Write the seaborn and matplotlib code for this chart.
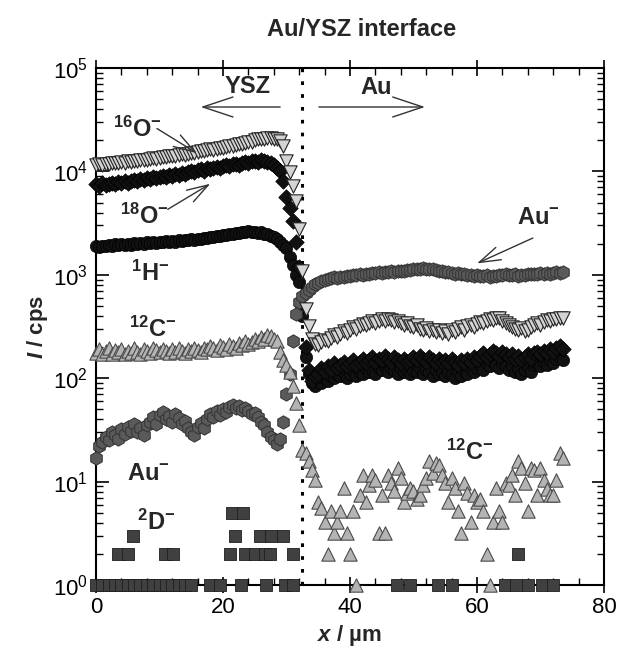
"""
Au/YSZ interface - SIMS line scan across the electrode/electrolyte boundary
--------------------------------------------------------------------------
Secondary ion intensities (log scale) versus lateral position x.
"""

import matplotlib

matplotlib.use("Agg")

import matplotlib.pyplot as plt
import numpy as np
import seaborn as sns
from matplotlib.ticker import MultipleLocator

# ==========================================================
# Data (counts per second, one value every 0.5 um)
# ==========================================================

STEP_UM = 0.5

O16 = [
    11500, 11700, 11600, 11900, 11800, 12000, 12100, 12000, 12300, 12200,
    12500, 12400, 12700, 12600, 12900, 13000, 12900, 13200, 13400, 13300,
    13600, 13800, 13700, 14000, 14200, 14100, 14400, 14600, 14500, 14900,
    15100, 15000, 15400, 15700, 15600, 16000, 16300, 16200, 16600, 16900,
    17000, 17400, 17700, 17600, 18100, 18400, 18300, 18800, 19200, 19100,
    20000, 20400, 20800, 20600, 21000, 20900, 20700, 20400, 19800, 17500,
    12500, 9800, 7300, 5200, 2800, 1100, 470, 320, 240, 215,
    210, 225, 235, 230, 245, 260, 250, 270, 285, 275,
    295, 310, 300, 320, 335, 325, 345, 355, 340, 360,
    370, 355, 375, 365, 350, 360, 345, 330, 340, 320,
    310, 325, 300, 290, 305, 285, 295, 280, 290, 275,
    285, 270, 290, 280, 300, 310, 295, 320, 330, 315,
    335, 350, 340, 360, 375, 365, 385, 380, 360, 345,
    330, 315, 300, 290, 305, 285, 295, 310, 325, 340,
    330, 350, 365, 355, 375, 370, 385, 380,
]

O18 = [
    7500, 7200, 7700, 7400, 7600, 7800, 7500, 7900, 7700, 8000,
    7800, 8100, 8300, 8000, 8400, 8200, 8600, 8400, 8800, 8600,
    8900, 9100, 8800, 9300, 9100, 9500, 9300, 9700, 9500, 9900,
    10100, 9800, 10300, 10500, 10200, 10700, 10500, 10900, 11100, 10800,
    11300, 11500, 11200, 11700, 11900, 11600, 12100, 12300, 12000, 12500,
    12700, 12400, 12900, 12600, 12300, 12000, 11500, 10800, 10000, 8000,
    5700, 4400, 3300, 2100, 1200, 500, 200, 120, 95, 105,
    110, 125, 115, 130, 120, 140, 125, 135, 145, 130,
    140, 150, 135, 145, 155, 140, 150, 160, 145, 155,
    150, 165, 155, 145, 160, 150, 140, 155, 145, 150,
    160, 150, 165, 155, 145, 160, 150, 140, 155, 145,
    150, 140, 155, 145, 135, 150, 140, 155, 145, 160,
    150, 165, 175, 160, 170, 185, 175, 165, 180, 170,
    160, 170, 155, 165, 150, 160, 170, 155, 175, 180,
    170, 185, 175, 190, 180, 195, 205, 190,
]

H1 = [
    1900, 1850, 1920, 1880, 1950, 1900, 1970, 1930, 1990, 1950,
    2000, 1960, 2020, 1980, 2040, 2000, 2060, 2020, 2080, 2040,
    2100, 2060, 2120, 2080, 2140, 2100, 2160, 2120, 2180, 2150,
    2200, 2170, 2240, 2200, 2280, 2250, 2330, 2300, 2380, 2350,
    2450, 2430, 2500, 2480, 2560, 2530, 2600, 2570, 2650, 2600,
    2620, 2560, 2580, 2500, 2480, 2400, 2330, 2220, 2100, 1950,
    1800, 1500, 1250, 1000, 850, 400, 160, 110, 90, 85,
    95, 90, 100, 95, 105, 100, 110, 105, 115, 100,
    110, 120, 105, 115, 110, 125, 115, 120, 110, 125,
    120, 130, 115, 125, 120, 110, 125, 115, 120, 110,
    120, 115, 125, 110, 120, 115, 105, 120, 110, 115,
    105, 115, 110, 100, 115, 105, 120, 110, 125, 115,
    125, 135, 120, 140, 130, 145, 135, 125, 140, 130,
    120, 130, 115, 125, 110, 120, 130, 115, 135, 140,
    130, 145, 135, 150, 140, 155, 160, 150,
]

AU = [
    17, 22, 24, 27, 25, 30, 28, 26, 32, 29,
    34, 31, 36, 30, 33, 28, 35, 38, 42, 36,
    44, 47, 40, 43, 38, 45, 41, 36, 39, 33,
    30, 28, 34, 37, 33, 40, 45, 42, 48, 44,
    50, 47, 53, 55, 51, 54, 49, 52, 48, 45,
    46, 42, 38, 35, 30, 27, 25, 23, 26, 38,
    70, 110, 230, 420, 540, 620, 670, 720, 770, 810,
    840, 870, 890, 910, 930, 950, 940, 960, 950, 980,
    970, 1000, 990, 1010, 1000, 1030, 1020, 1050, 1040, 1060,
    1050, 1070, 1060, 1080, 1070, 1090, 1080, 1100, 1110, 1120,
    1130, 1140, 1150, 1160, 1150, 1140, 1130, 1110, 1100, 1080,
    1070, 1060, 1050, 1030, 1040, 1020, 1010, 1000, 990, 980,
    1000, 980, 970, 990, 960, 980, 970, 1000, 990, 1010,
    1000, 990, 1010, 980, 1000, 990, 1020, 1010, 1030, 1020,
    1040, 1030, 1050, 1020, 1040, 1060, 1050, 1070,
]

C12 = [
    175, 190, 170, 185, 195, 172, 188, 178, 192, 170,
    185, 175, 195, 180, 170, 190, 182, 176, 195, 186,
    178, 192, 184, 174, 190, 180, 196, 185, 176, 192,
    184, 198, 188, 180, 196, 190, 205, 195, 188, 210,
    200, 192, 215, 205, 198, 220, 210, 230, 215, 225,
    240, 228, 250, 238, 262, 255, 240, 230, 180, 150,
    135, 115, 85, 58, 35, 20, 19, 16, 13, 10.4,
    6.4, 5.5, 4.1, 2.0, 5.2, 3.2, 4.1, 5.2, 8.6, 3.2,
    2.0, 5.2, 1.0, 7.4, 11.6, 6.4, 9.2, 11.6, 10.4, 3.2,
    7.4, 3.2, 11.6, 9.7, 8.1, 13.6, 10.9, 6.4, 7.7, 8.6,
    8.1, 6.8, 7.4, 9.2, 10.9, 16, 12.2, 15.3, 14.6, 11.6,
    9.7, 6.4, 10.9, 8.6, 5.2, 3.2, 9.7, 7.7, 4.1, 7.4,
    6.4, 6.8, 5.2, 2.0, 1.0, 4.1, 8.6, 5.2, 4.1, 9.7,
    9.2, 11.6, 7.4, 16, 13.6, 9.7, 5.2, 13.6, 13, 7.4,
    13.6, 10.4, 8.4, 7.4, 7.4, 10.4, 19, 17,
]

# 2D- is counted in single events: positions (um) for each count level
D2_ONE_X = [0, 1, 2, 3, 4, 5, 6, 7, 8, 9, 10, 11, 12, 13, 14, 15,
            17.9, 19.6, 22.8, 26.8, 29.8, 31.1, 47.4, 49.4, 53.9, 56.1,
            64.4, 66.1, 68.0, 70.2, 72.0]
D2_TWO_X = [3.5, 5.0, 10.9, 12.1, 21.1, 23.5, 25.0, 26.6, 27.4, 31.0, 66.5]
D2_THREE_X = [5.8, 21.9, 25.8, 27.6, 29.4]
D2_FIVE_X = [21.4, 23.1]

INTERFACE_X = 32.4

# ==========================================================
# Plot Style
# ==========================================================

sns.set_theme(style="ticks")

plt.rcParams.update({
    "font.family": ["Liberation Sans", "DejaVu Sans"],
    "mathtext.fontset": "custom",
    "mathtext.rm": "Liberation Sans",
    "mathtext.it": "Liberation Sans:italic",
    "mathtext.bf": "Liberation Sans:bold",
    "mathtext.bfit": "Liberation Sans:italic:bold",
    "mathtext.sf": "Liberation Sans",
    "axes.linewidth": 1.5,
    "axes.edgecolor": "black",
})


def draw(ax, x, y, marker, size, face, edge, lw, z):
    """One ion signal as a scatter."""

    sns.scatterplot(
        x=x,
        y=y,
        marker=marker,
        s=size,
        color=face,
        edgecolor=edge,
        linewidth=lw,
        zorder=z,
        clip_on=False,
        legend=False,
        ax=ax,
    )


def arrow(ax, tail, head, scale=22, style="->,head_length=0.7,head_width=0.22"):
    ax.annotate(
        "",
        xy=head,
        xytext=tail,
        arrowprops=dict(
            arrowstyle=style,
            color="#333333",
            lw=1.0,
            mutation_scale=scale,
            shrinkA=0,
            shrinkB=0,
        ),
        zorder=8,
    )


def main() -> None:

    depth = np.arange(len(O16)) * STEP_UM

    d2_x = D2_ONE_X + D2_TWO_X + D2_THREE_X + D2_FIVE_X
    d2_y = ([1] * len(D2_ONE_X) + [2] * len(D2_TWO_X)
            + [3] * len(D2_THREE_X) + [5] * len(D2_FIVE_X))

    fig = plt.figure(figsize=(6.17, 6.48), dpi=100)
    # frame: x 96..604 px, y 68..585 px
    ax = fig.add_axes([0.1556, 0.0972, 0.8233, 0.7978])

    ax.axvline(INTERFACE_X, color="black", lw=2.2, ls=(0, (1.2, 3.0)), zorder=1)

    # signals, back to front
    draw(ax, depth, H1, "o", 78, "#111111", "#000000", 0.5, 3)
    draw(ax, depth, O18, "D", 62, "#111111", "#000000", 0.5, 4)
    draw(ax, depth, AU, "h", 92, "#5a5a5a", "#333333", 0.7, 5)
    draw(ax, depth, C12, "^", 92, "#b4b4b4", "#4a4a4a", 0.8, 6)
    draw(ax, depth, O16, "v", 92, "#d4d4d4", "#222222", 0.8, 6)
    draw(ax, d2_x, d2_y, "s", 64, "#404040", "#1e1e1e", 0.6, 7)

    ax.set_yscale("log")
    ax.set_xlim(0, 80)
    ax.set_ylim(1, 1e5)

    ax.xaxis.set_major_locator(MultipleLocator(20))
    ax.xaxis.set_minor_locator(MultipleLocator(4))

    ax.tick_params(axis="both", which="both", direction="in",
                   top=True, right=True, labelsize=16, colors="black")
    ax.tick_params(axis="x", which="major", direction="inout",
                   length=11, width=1.2, pad=3)
    ax.tick_params(axis="x", which="minor", length=5, width=1.0)
    ax.tick_params(axis="y", which="major", length=9, width=1.2, pad=6)
    ax.tick_params(axis="y", which="minor", length=5, width=1.0)

    ax.set_xlabel(r"$\bfit{x}$ / µm", fontsize=16, fontweight="bold")
    ax.set_ylabel(r"$\bfit{I}$ / cps", fontsize=16, fontweight="bold")
    ax.xaxis.set_label_coords(0.5, -0.074)
    ax.yaxis.set_label_coords(-0.09, 0.5)

    fig.text(362 / 617, 1 - 29 / 648, "Au/YSZ interface",
             fontsize=17, fontweight="bold", ha="center", va="center")

    # region labels
    ax.text(23.9, 5.8e4, "YSZ", fontsize=17, fontweight="bold",
            ha="center", va="baseline")
    ax.text(44.1, 5.6e4, "Au", fontsize=17, fontweight="bold",
            ha="center", va="baseline")
    big = "->,head_length=0.9,head_width=0.3"
    arrow(ax, (29.0, 4.2e4), (16.5, 4.2e4), scale=24, style=big)
    arrow(ax, (35.1, 4.2e4), (51.8, 4.2e4), scale=24, style=big)

    # species labels
    label_kw = dict(fontsize=17, ha="center", va="baseline", zorder=9)
    ax.text(6.6, 2.14e4, r"$^{\mathbf{16}}\mathbf{O}^{\mathbf{-}}$", **label_kw)
    ax.text(7.6, 3.1e3, r"$^{\mathbf{18}}\mathbf{O}^{\mathbf{-}}$", **label_kw)
    ax.text(8.5, 875, r"$^{\mathbf{1}}\mathbf{H}^{\mathbf{-}}$", **label_kw)
    ax.text(8.9, 250, r"$^{\mathbf{12}}\mathbf{C}^{\mathbf{-}}$", **label_kw)
    ax.text(8.2, 10.3, r"$\mathbf{Au}^{\mathbf{-}}$", **label_kw)
    ax.text(9.4, 3.4, r"$^{\mathbf{2}}\mathbf{D}^{\mathbf{-}}$", **label_kw)
    ax.text(58.9, 16.2, r"$^{\mathbf{12}}\mathbf{C}^{\mathbf{-}}$", **label_kw)
    ax.text(69.6, 3.1e3, r"$\mathbf{Au}^{\mathbf{-}}$", **label_kw)

    arrow(ax, (9.6, 2.6e4), (15.9, 1.5e4))
    arrow(ax, (11.3, 4.3e3), (18.0, 7.6e3))
    arrow(ax, (68.8, 2.27e3), (60.0, 1.29e3))

    fig.savefig("out.png", dpi=100)
    plt.close(fig)


if __name__ == "__main__":
    main()
